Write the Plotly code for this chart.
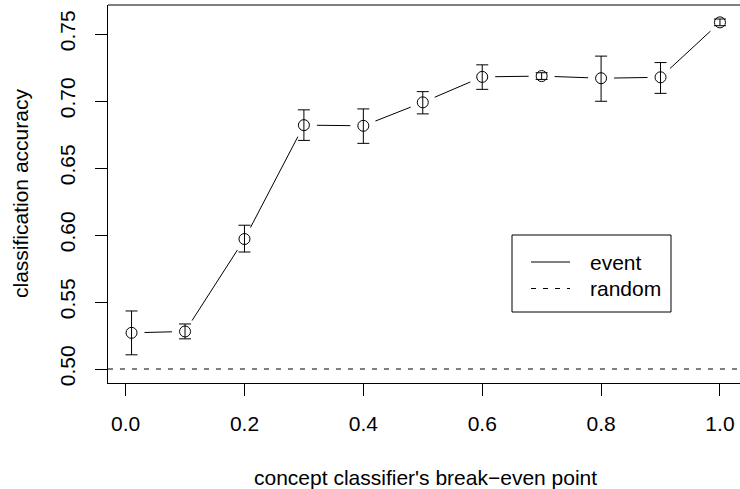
import math
import plotly.graph_objects as go

# ---- data ----
breakeven = [0.01, 0.1, 0.2, 0.3, 0.4, 0.5, 0.6, 0.7, 0.8, 0.9, 1.0]
accuracy = [0.527, 0.528, 0.597, 0.682, 0.6815, 0.699, 0.718, 0.7186, 0.717, 0.7177, 0.7587]
upper = [0.5433, 0.5336, 0.6073, 0.6934, 0.6941, 0.707, 0.727, 0.7211, 0.7335, 0.7287, 0.7612]
lower = [0.5106, 0.5225, 0.5873, 0.6706, 0.6684, 0.6904, 0.7087, 0.7161, 0.6998, 0.7057, 0.7562]
random_baseline = 0.5
x_ticks = [0.0, 0.2, 0.4, 0.6, 0.8, 1.0]
y_ticks = [0.50, 0.55, 0.60, 0.65, 0.70, 0.75]
legend_labels = ["event", "random"]

# ---- layout constants ----
W, H = 740, 489
ML, MR, MT, MB = 108, 0, 5, 106
FONT = "Liberation Sans, Arial, Helvetica, sans-serif"
FS = 21
DASH = "5px,7px"

# R-like axis extension (4%)
xmin_d, xmax_d = min(breakeven), max(breakeven)
xpad = 0.04 * (xmax_d - xmin_d)
x_lo, x_hi_full = xmin_d - xpad, xmax_d + xpad
ymin_d, ymax_d = min(min(lower), random_baseline), max(upper)
ypad = 0.04 * (ymax_d - ymin_d)
y_lo, y_hi = ymin_d - ypad, ymax_d + ypad

plot_w = W - ML - MR
plot_h = H - MT - MB
# R's full plot region is slightly wider than the visible window; cut at window edge
full_w = 635.5
kx = full_w / (x_hi_full - x_lo)
x_hi = x_lo + plot_w / kx
ky = plot_h / (y_hi - y_lo)

# ---- line segments with gaps around points (R type="b") ----
gap = 13.0
seg_x, seg_y = [], []
for i in range(len(breakeven) - 1):
    x1, y1, x2, y2 = breakeven[i], accuracy[i], breakeven[i + 1], accuracy[i + 1]
    dx, dy = (x2 - x1) * kx, (y2 - y1) * ky
    d = math.hypot(dx, dy)
    if d > 2 * gap:
        f = gap / d
        seg_x += [x1 + (x2 - x1) * f, x2 - (x2 - x1) * f, None]
        seg_y += [y1 + (y2 - y1) * f, y2 - (y2 - y1) * f, None]

fig = go.Figure()
fig.add_trace(go.Scatter(x=seg_x, y=seg_y, mode="lines",
                         line=dict(color="black", width=1), showlegend=False,
                         hoverinfo="skip"))
fig.add_trace(go.Scatter(
    x=breakeven, y=accuracy, mode="markers",
    marker=dict(symbol="circle-open", size=11, color="black", line=dict(width=1, color="black")),
    error_y=dict(type="data", symmetric=False,
                 array=[u - a for u, a in zip(upper, accuracy)],
                 arrayminus=[a - l for a, l in zip(accuracy, lower)],
                 color="black", thickness=1, width=6),
    showlegend=False))

shapes = []
# random baseline
shapes.append(dict(type="line", xref="paper", yref="y", x0=0, x1=1,
                   y0=random_baseline, y1=random_baseline,
                   line=dict(color="black", width=1, dash=DASH)))
# top border
shapes.append(dict(type="line", xref="paper", yref="paper", x0=0, x1=1, y0=1, y1=1,
                   line=dict(color="black", width=1)))


def px2paper(px, py):
    return (px - ML) / plot_w, (MT + plot_h - py) / plot_h


# legend box
bx0, by0 = px2paper(512, 312)
bx1, by1 = px2paper(671, 235)
shapes.append(dict(type="rect", xref="paper", yref="paper", x0=bx0, x1=bx1, y0=by0, y1=by1,
                   line=dict(color="black", width=1), fillcolor="white", layer="above"))
annotations = []
for i, (lab, dash) in enumerate(zip(legend_labels, ["solid", DASH])):
    py = 262 + 26.5 * i
    lx0, ly = px2paper(531, py)
    lx1, _ = px2paper(570, py)
    shapes.append(dict(type="line", xref="paper", yref="paper", x0=lx0, x1=lx1, y0=ly, y1=ly,
                       line=dict(color="black", width=1, dash=dash)))
    tx, _ = px2paper(588, py)
    annotations.append(dict(xref="paper", yref="paper", x=tx, y=ly, text=lab, showarrow=False,
                            xanchor="left", yanchor="middle",
                            font=dict(family=FONT, size=FS, color="black")))

# axis titles
annotations.append(dict(xref="x", yref="paper", x=(x_lo + x_hi_full) / 2, y=0,
                        yshift=-94, text="concept classifier's break\u2212even point",
                        showarrow=False, xanchor="center", yanchor="middle",
                        font=dict(family=FONT, size=FS, color="black")))
annotations.append(dict(xref="paper", yref="paper", x=0, y=0.5, xshift=-88,
                        text="classification accuracy", textangle=-90,
                        showarrow=False, xanchor="center", yanchor="middle",
                        font=dict(family=FONT, size=FS, color="black")))

fig.update_layout(
    width=W, height=H,
    margin=dict(l=ML, r=MR, t=MT, b=MB, pad=0),
    paper_bgcolor="white", plot_bgcolor="white",
    font=dict(family=FONT, size=FS, color="black"),
    shapes=shapes, annotations=annotations,
    xaxis=dict(range=[x_lo, x_hi], tickvals=x_ticks, ticktext=[f"{v:.1f}" for v in x_ticks],
               showgrid=False, zeroline=False, showline=True, linecolor="black", linewidth=1,
               ticks="outside", ticklen=12, tickwidth=1, tickcolor="black",
               ticklabelstandoff=10),
    yaxis=dict(range=[y_lo, y_hi], tickvals=y_ticks, ticktext=[f"{v:.2f}" for v in y_ticks],
               tickangle=-90,
               showgrid=False, zeroline=False, showline=True, linecolor="black", linewidth=1,
               ticks="outside", ticklen=12, tickwidth=1, tickcolor="black",
               ticklabelstandoff=12),
)

fig.write_html("out.html")
